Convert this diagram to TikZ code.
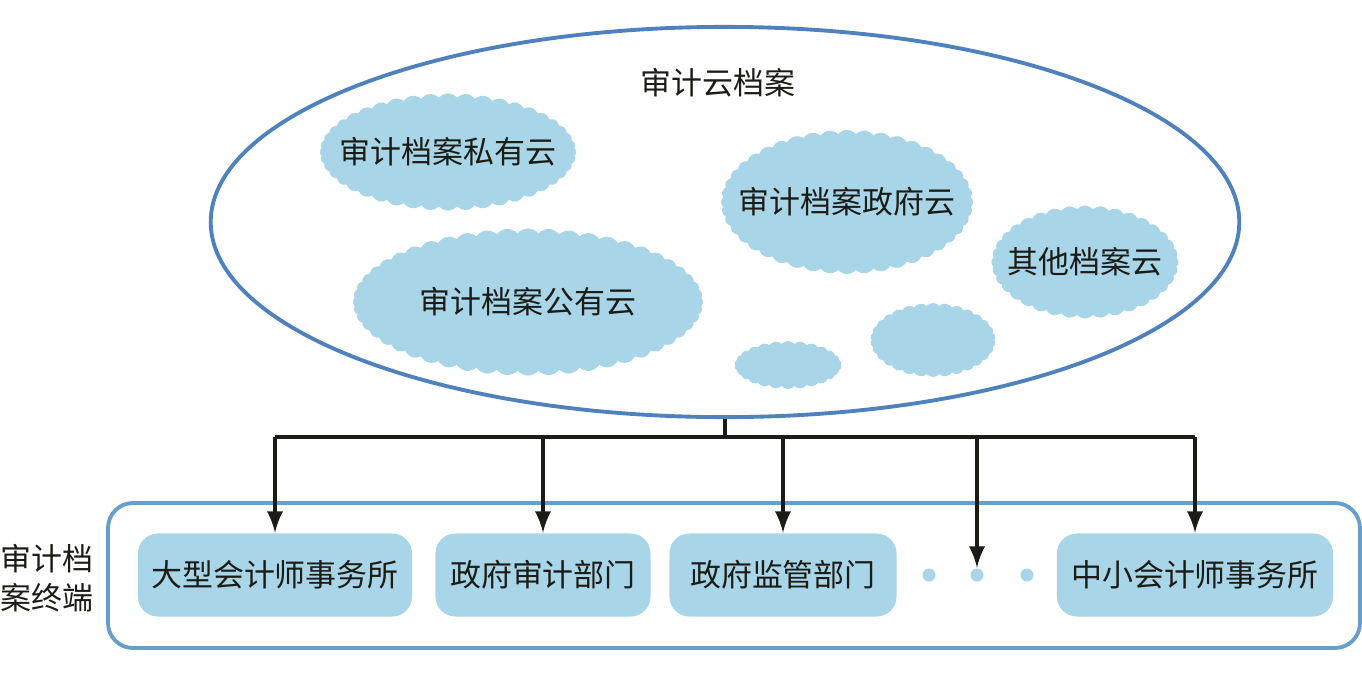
\documentclass[tikz,border=0pt]{standalone}
\usepackage{fontspec}
\setmainfont{Noto Sans CJK SC}
\usepackage{tikz}
\usetikzlibrary{shapes.symbols,shapes.geometric}

\definecolor{skyfill}{RGB}{168,213,232}
\definecolor{rimblue}{RGB}{79,129,189}
\definecolor{framblue}{RGB}{104,158,202}
\definecolor{inkdark}{RGB}{28,28,22}

\tikzset{
  puff/.style={cloud, cloud puffs=#1, cloud puff arc=100, cloud ignores aspect,
    fill=skyfill, inner sep=0pt},
  unitbox/.style={fill=skyfill, rounded corners=0.2cm, minimum height=0.83cm,
    inner sep=0pt, text=inkdark},
  feed/.style={inkdark, line width=1.1pt},
  dotmark/.style={circle, fill=skyfill, inner sep=0pt, minimum size=0.13cm}
}

\begin{document}
\begin{tikzpicture}[x=0.01cm, y=-0.01cm, font=\fontsize{8.8}{11}\selectfont]
		  \useasboundingbox (0,0) rectangle (1362,675);
		  \node[ellipse, draw=rimblue, line width=1.1pt, minimum width=10.28cm, minimum height=3.9cm] (archive) at (725,222) {};
		  \node[text=inkdark] (archtitle) at (718,83) {审计云档案};
                  \node[puff=44, minimum width=2.56cm, minimum height=1.17cm] (private) at (448,152) {};
                  \node[text=inkdark] (privatetext) at (private.center) {审计档案私有云};
                  \node[puff=44, minimum width=2.52cm, minimum height=1.44cm] (govcloud) at (847,202) {};
                  \node[text=inkdark] (govtext) at (govcloud.center) {审计档案政府云};
                  \node[puff=36, minimum width=1.87cm, minimum height=1.13cm] (other) at (1085,262) {};
                  \node[text=inkdark] (othertext) at (other.center) {其他档案云};
                  \node[puff=52, minimum width=3.5cm, minimum height=1.47cm] (public) at (528,302) {};
                  \node[text=inkdark] (publictext) at (public.center) {审计档案公有云};
                  \node[puff=26, minimum width=1.07cm, minimum height=0.48cm] (tiny) at (788,365) {};
                  \node[puff=30, minimum width=1.25cm, minimum height=0.74cm] (mid) at (933,340) {};
		  \draw[framblue, line width=1.1pt, rounded corners=0.25cm] (108,503) rectangle (1360,648);
		  \node[align=center, text=inkdark] (termlabel) at (47,578) {审计档\\案终端};
                  \node[unitbox, minimum width=2.74cm] (big) at (275,575) {大型会计师事务所};
                  \node[unitbox, minimum width=2.15cm] (audit) at (543,575) {政府审计部门};
                  \node[unitbox, minimum width=2.27cm] (watch) at (783,575) {政府监管部门};
                  \node[unitbox, minimum width=2.76cm] (small) at (1195,575) {中小会计师事务所};
                  \node[dotmark] (dotA) at (929,575) {};
                  \node[dotmark] (dotB) at (977,575) {};
                  \node[dotmark] (dotC) at (1027,575) {};
		  \coordinate (bus) at (725,437);
		  \draw[feed] (archive.south) -- (bus);
		  \draw[feed] (bus -| big.north) -- (bus -| small.north);
		  \draw[feed, -latex] (bus -| big.north) -- (big.north);
		  \draw[feed, -latex] (bus -| audit.north) -- (audit.north);
		  \draw[feed, -latex] (bus -| watch.north) -- (watch.north);
		  \draw[feed, -latex] (bus -| dotB.north) -- (dotB.north);
		  \draw[feed, -latex] (bus -| small.north) -- (small.north);
		\end{tikzpicture}
\end{document}
